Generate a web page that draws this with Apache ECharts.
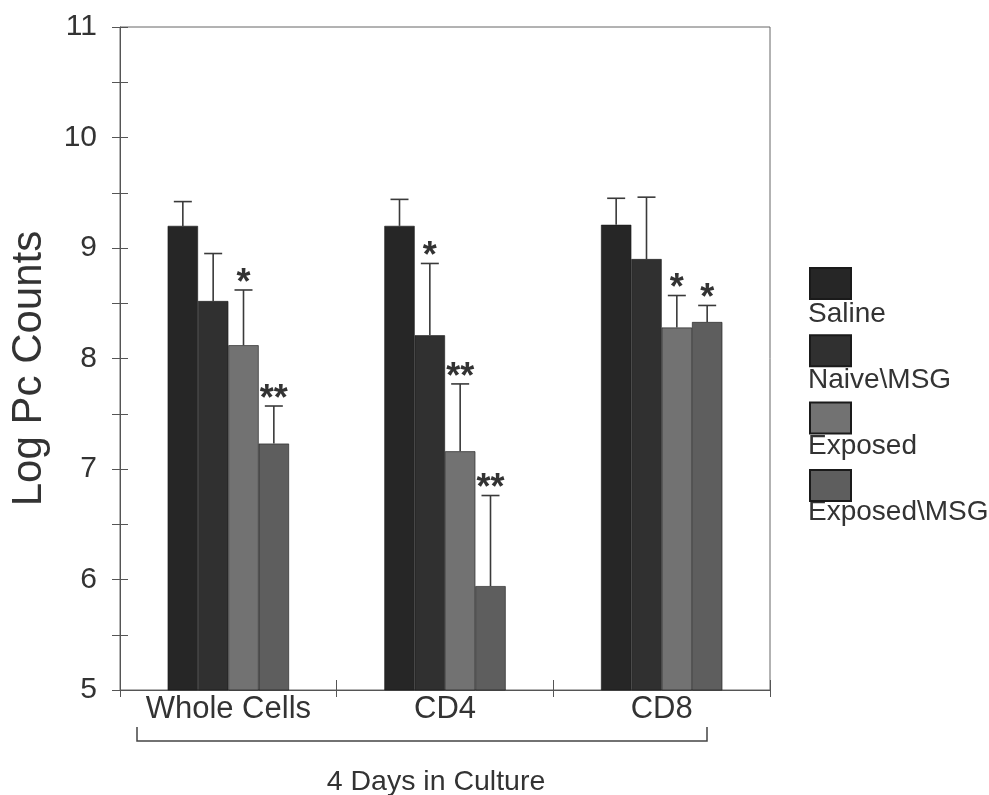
<!DOCTYPE html>
<html>
<head>
<meta charset="utf-8">
<script src="https://cdn.jsdelivr.net/npm/echarts@6/dist/echarts.min.js"></script>
<style>
html,body{margin:0;padding:0;background:#fff;}
#c{width:989px;height:795px;}
</style>
</head>
<body>
<div id="c"></div>
<script>
var categories = ['Whole Cells', 'CD4', 'CD8'];
var seriesNames = ['Saline', 'Naive\\MSG', 'Exposed', 'Exposed\\MSG'];
var saline = [9.20, 9.20, 9.21];
var naiveMSG = [8.52, 8.21, 8.90];
var exposed = [8.12, 7.16, 8.28];
var exposedMSG = [7.23, 5.94, 8.33];
var salineErr = [0.22, 0.24, 0.24];
var naiveMSGErr = [0.43, 0.65, 0.56];
var exposedErr = [0.50, 0.61, 0.29];
var exposedMSGErr = [0.34, 0.82, 0.15];
var salineStars = ['', '', ''];
var naiveMSGStars = ['', '*', ''];
var exposedStars = ['*', '**', '*'];
var exposedMSGStars = ['**', '**', '*'];
var yTicks = [5, 6, 7, 8, 9, 10, 11];

var values = [saline, naiveMSG, exposed, exposedMSG];
var errs = [salineErr, naiveMSGErr, exposedErr, exposedMSGErr];
var stars = [salineStars, naiveMSGStars, exposedStars, exposedMSGStars];
var colors = ['#262626', '#303030', '#727272', '#5e5e5e'];
var FONT = '"Liberation Sans", Arial, sans-serif';
var GAP = 0.44;

var chart = echarts.init(document.getElementById('c'));

var series = [];
values.forEach(function (vals, j) {
  series.push({
    name: seriesNames[j],
    type: 'bar',
    xAxisIndex: 0, yAxisIndex: 0,
    data: vals,
    barGap: '0%',
    barCategoryGap: (GAP * 100) + '%',
    itemStyle: { color: colors[j], borderColor: '#1a1a1a', borderWidth: 0.6 },
    z: 2
  });
});
values.forEach(function (vals, j) {
  series.push({
    type: 'custom',
    xAxisIndex: 0, yAxisIndex: 0,
    z: 5,
    silent: true,
    data: vals.map(function (v, i) { return [i, v, v + errs[j][i], stars[j][i]]; }),
    encode: { x: 0, y: [1, 2] },
    renderItem: function (params, api) {
      var cat = api.value(0);
      var base = api.coord([cat, api.value(1)]);
      var top = api.coord([cat, api.value(2)]);
      var band = api.size([1, 0])[0];
      var bw = band * (1 - GAP) / 4;
      var x = base[0] + (j - 1.5) * bw;
      var st = stars[j][params.dataIndex];
      var children = [
        { type: 'line', shape: { x1: x, y1: base[1], x2: x, y2: top[1] }, style: { stroke: '#3a3a3a', lineWidth: 1.6 } },
        { type: 'line', shape: { x1: x - 9, y1: top[1], x2: x + 9, y2: top[1] }, style: { stroke: '#3a3a3a', lineWidth: 1.6 } }
      ];
      if (st) {
        children.push({
          type: 'text',
          style: { text: st, x: x, y: top[1] + 12, align: 'center', verticalAlign: 'bottom', fontSize: 36, fontWeight: 'bold', fontFamily: FONT, fill: '#333' }
        });
      }
      return { type: 'group', children: children };
    }
  });
});
series.push({ type: 'line', xAxisIndex: 1, yAxisIndex: 1, data: [], silent: true });

var legendTexts = [];
var legendY = [314, 380, 446, 512];
seriesNames.forEach(function (n, k) {
  legendTexts.push({
    type: 'text', left: 808, top: legendY[k] - 14,
    style: { text: n, fontSize: 28, fontFamily: FONT, fill: '#333' }
  });
});

chart.setOption({
  backgroundColor: '#fff',
  animation: false,
  grid: { left: 120, right: 219, top: 27, bottom: 105, show: true, borderColor: '#666', borderWidth: 1, containLabel: false, outerBoundsMode: 'none' },
  legend: {
    orient: 'vertical', left: 809, top: 267, padding: 0,
    itemWidth: 41, itemHeight: 31, itemGap: 34.3,
    icon: 'rect',
    data: seriesNames,
    formatter: function () { return ''; },
    textStyle: { fontSize: 1 },
    selectedMode: false
  },
  xAxis: [{
    type: 'category', data: categories, position: 'bottom',
    axisLine: { lineStyle: { color: '#555', width: 1 } },
    axisTick: { show: true, length: 7, lineStyle: { color: '#555' } },
    axisLabel: { fontSize: 31, fontFamily: FONT, color: '#333', margin: 4 },
    splitLine: { show: false }
  }, {
    type: 'category', data: categories, position: 'bottom', offset: 0,
    axisLine: { show: true, lineStyle: { color: 'rgba(0,0,0,0)' } },
    axisTick: { show: true, inside: true, length: 10, lineStyle: { color: '#555' } },
    axisLabel: { show: false },
    splitLine: { show: false }
  }],
  yAxis: [{
    type: 'value', min: 5, max: 11, interval: 1, position: 'left',
    name: 'Log Pc Counts', nameLocation: 'middle', nameGap: 70, nameRotate: 90,
    nameTextStyle: { fontSize: 42, fontFamily: FONT, color: '#333', padding: [0, 20, 0, 0] },
    axisLine: { show: true, lineStyle: { color: '#555', width: 1 } },
    axisTick: { show: true, length: 8, lineStyle: { color: '#555' } },
    minorTick: { show: true, splitNumber: 2, length: 8, lineStyle: { color: '#555' } },
    axisLabel: { fontSize: 30, fontFamily: FONT, color: '#333', margin: 23 },
    splitLine: { show: false }
  }, {
    type: 'value', min: 5, max: 11, interval: 1, position: 'left', offset: 0,
    axisLine: { show: true, lineStyle: { color: 'rgba(0,0,0,0)' } },
    axisTick: { show: true, inside: true, length: 8, lineStyle: { color: '#555' } },
    minorTick: { show: true, splitNumber: 2, length: 8, lineStyle: { color: '#555' } },
    axisLabel: { show: false },
    splitLine: { show: false }
  }],
  graphic: legendTexts.concat([
    { type: 'polyline', shape: { points: [[137, 727], [137, 741], [707, 741], [707, 727]] }, style: { stroke: '#444', lineWidth: 1.5, fill: null } },
    { type: 'text', x: 436, y: 768, style: { text: '4 Days in Culture', align: 'center', fontSize: 28.5, fontFamily: FONT, fill: '#333' } }
  ]),
  series: series
});
</script>
</body>
</html>
